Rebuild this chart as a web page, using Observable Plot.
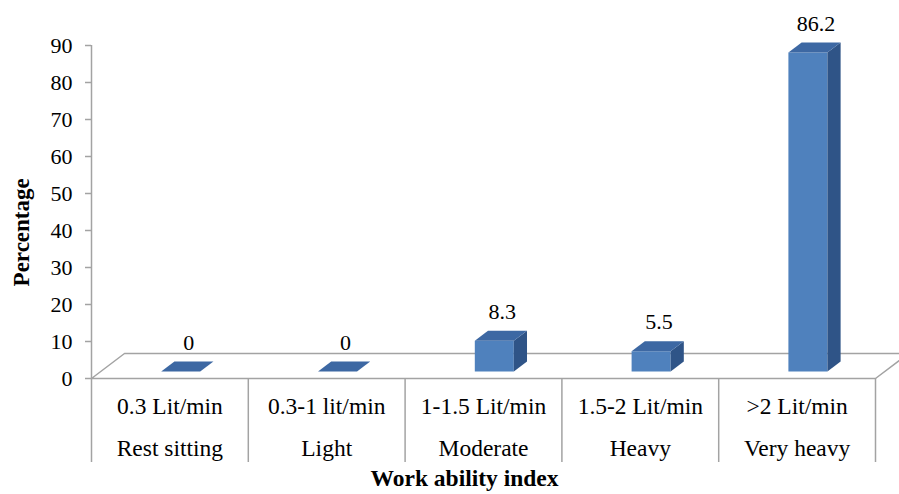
<!DOCTYPE html>
<html>
<head>
<meta charset="utf-8">
<script src="https://cdn.jsdelivr.net/npm/d3@7"></script>
<script src="https://cdn.jsdelivr.net/npm/@observablehq/plot@0.6"></script>
<style>
  html, body { margin: 0; padding: 0; background: white; }
  #chart svg { display: block; }
  #chart svg text { font-family: "Liberation Serif", serif; }
</style>
</head>
<body>
<div id="chart"></div>
<script>
// ---- data ----
const categories = ["Rest sitting", "Light", "Moderate", "Heavy", "Very heavy"];
const rates = ["0.3 Lit/min", "0.3-1 lit/min", "1-1.5 Lit/min", "1.5-2 Lit/min", ">2 Lit/min"];
const percentages = [0, 0, 8.3, 5.5, 86.2];
const yTicks = [0, 10, 20, 30, 40, 50, 60, 70, 80, 90];
const xAxisTitle = "Work ability index";
const yAxisTitle = "Percentage";

// ---- 3D geometry (in scale units) ----
const DX = 33 / 156.8;   // floor depth, x direction (band units)
const DY = 25 / 3.7;     // floor depth, y direction (value units)
const D0 = 0.28, D1 = 0.68; // bar depth range within floor
const HW = 0.1244;       // half bar width
const XC = 0.01;         // bar centre offset
const pt = (x, v, d) => ({x: x + d * DX, y: v + d * DY});

const idx = categories.map((_, i) => i);
const frontFaces = [], sideFaces = [], topFaces = [];
idx.forEach(i => {
  const v = percentages[i];
  const xl = i + XC - HW, xr = i + XC + HW;
  [pt(xl, 0, D0), pt(xr, 0, D0), pt(xr, v, D0), pt(xl, v, D0)].forEach(p => frontFaces.push({...p, id: i}));
  [pt(xr, 0, D0), pt(xr, 0, D1), pt(xr, v, D1), pt(xr, v, D0)].forEach(p => sideFaces.push({...p, id: i}));
  [pt(xl, v, D0), pt(xr, v, D0), pt(xr, v, D1), pt(xl, v, D1)].forEach(p => topFaces.push({...p, id: i}));
});
const floorPoly = [pt(-0.5, 0, 0), pt(4.5, 0, 0), pt(4.5, 0, 1), pt(-0.5, 0, 1)];
const bounds = [-0.5, 0.5, 1.5, 2.5, 3.5, 4.5];
const gray = "#a3a3a3";
const FF = "Liberation Serif";

const chart = Plot.plot({
  width: 899,
  height: 494,
  marginLeft: 91,
  marginRight: 24,
  marginTop: 45,
  marginBottom: 116,
  x: {type: "linear", domain: [-0.5, 4.5], axis: null},
  y: {domain: [0, 90], axis: null},
  style: {fontFamily: FF, fontSize: "22px", color: "black", background: "white"},
  marks: [
    // floor
    Plot.line(floorPoly, {x: "x", y: "y", curve: "linear-closed", stroke: gray, strokeWidth: 1.5, fill: "white"}),
    // y axis line
    Plot.ruleX([-0.5], {y1: 0, y2: 90, stroke: gray, strokeWidth: 1.5}),
    Plot.axisY({ticks: yTicks, tickSize: 6, tickPadding: 13, stroke: gray, strokeWidth: 1.5, fill: "black", label: null, fontSize: 22, fontFamily: FF}),
    // category table lines
    Plot.ruleX(bounds, {y1: 0, y2: -22.7, stroke: gray, strokeWidth: 1.5}),
    // bars
    Plot.line(frontFaces, {x: "x", y: "y", z: "id", curve: "linear-closed", stroke: "none", fill: "#4f81bd"}),
    Plot.line(sideFaces, {x: "x", y: "y", z: "id", curve: "linear-closed", stroke: "none", fill: "#2f5487"}),
    Plot.line(topFaces, {x: "x", y: "y", z: "id", curve: "linear-closed", stroke: "none", fill: "#3d68a3"}),
    // value labels
    Plot.text(idx, {x: i => i + 0.12, y: i => percentages[i] + D1 * DY, dy: -19, text: i => String(percentages[i]), fill: "black", fontSize: 22, fontFamily: FF}),
    // category labels
    Plot.text(idx, {x: i => i, y: -7.57, text: i => rates[i], fill: "black", fontSize: 23.5, fontFamily: FF}),
    Plot.text(idx, {x: i => i, y: -18.9, text: i => categories[i], fill: "black", fontSize: 23.5, fontFamily: FF}),
    // axis titles
    Plot.text([xAxisTitle], {x: 1.879, y: -27.0, text: d => d, fontWeight: "bold", fill: "black", fontSize: 23.5, fontFamily: FF}),
    Plot.text([yAxisTitle], {x: -0.5, y: 39.5, dx: -70, rotate: -90, text: d => d, fontWeight: "bold", fill: "black", fontSize: 23, fontFamily: FF})
  ]
});
document.getElementById("chart").appendChild(chart);
</script>
</body>
</html>
